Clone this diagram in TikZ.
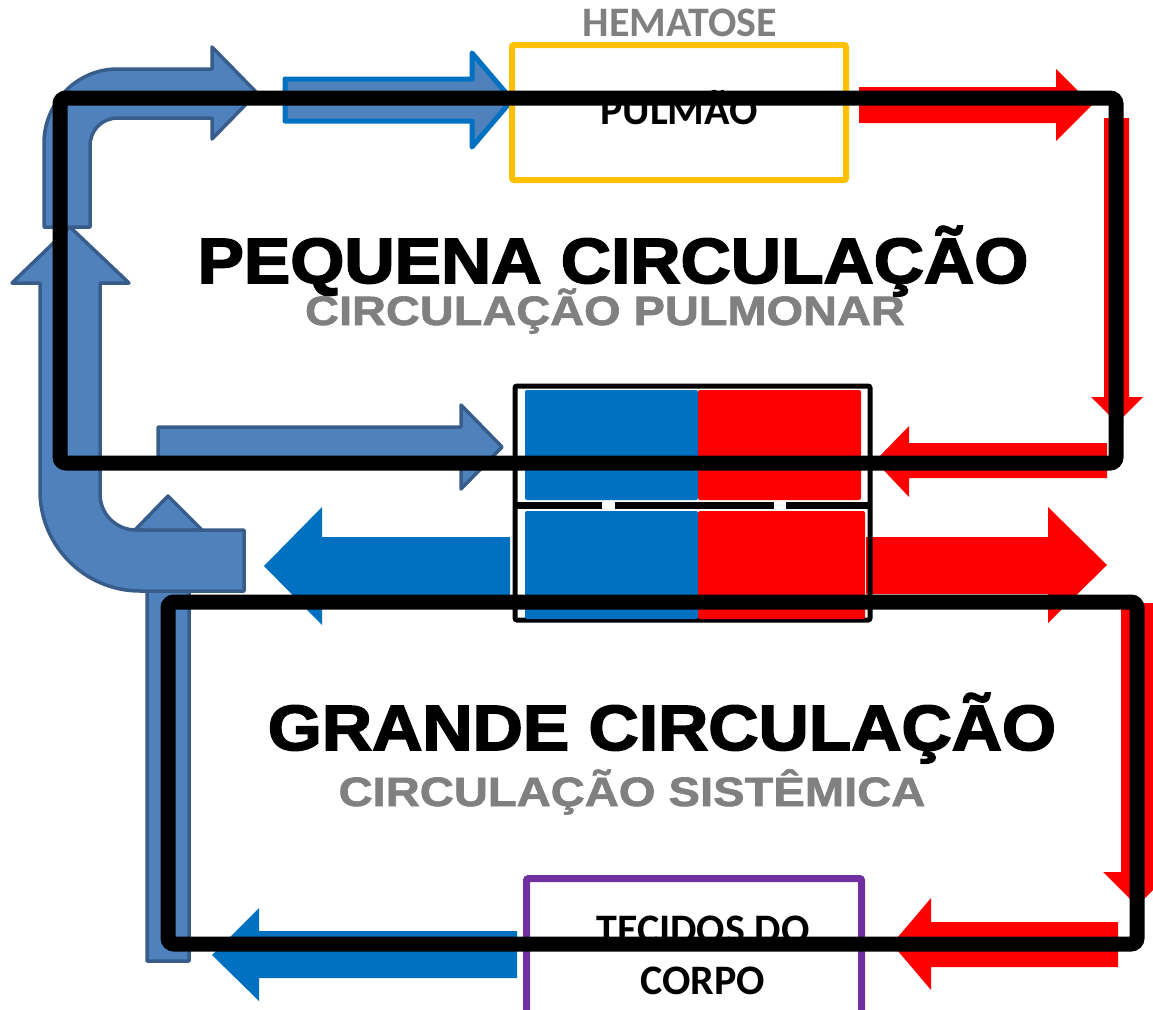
\documentclass[tikz,border=0pt]{standalone}
\usepackage{graphicx}
\usepackage{fontspec}
\setmainfont{Liberation Sans}
\newfontfamily\calibri{Carlito}
\newfontfamily\heavyfont[FakeBold=2.5]{Liberation Sans Bold}
\newfontfamily\subfont[FakeBold=1.5]{Liberation Sans Bold}
\definecolor{bgfill}{HTML}{4F81BD}
\definecolor{bgline}{HTML}{385D8A}
\definecolor{vblue}{HTML}{0070C0}
\definecolor{vred}{HTML}{FF0000}
\definecolor{lyellow}{HTML}{FFC000}
\definecolor{tpurple}{HTML}{7030A0}
\definecolor{tgray}{HTML}{808080}

\begin{document}
\begin{tikzpicture}[x=1pt,y=-1pt,
  bluegray/.style={fill=bgfill,draw=bgline,line width=3.5pt,line join=round},
  veins/.style={fill=vblue},
  artery/.style={fill=vred},
  frame/.style={draw=black,line width=15pt,rounded corners=6pt},
  organ/.style={draw,line width=6pt,rounded corners=2pt,inner sep=0pt},
  boxtext/.style={font={\calibri\bfseries\fontsize{42}{51}\selectfont},align=center,inner sep=0pt},
  title/.style={font={\heavyfont\fontsize{64}{64}\selectfont},anchor=base,inner sep=0pt},
  subtitle/.style={font={\subfont\fontsize{41}{41}\selectfont},text=tgray,anchor=base,inner sep=0pt}]
\useasboundingbox (0,0) rectangle (1153,1009);
\clip (0,0) rectangle (1153,1009);

% veias (setas azul-acinzentadas)
\draw[bluegray] (147,961) -- (147,530) -- (135,530) -- (168,496) -- (202,530) -- (189,530) -- (189,961) -- cycle;
\draw[bluegray] (244,530) -- (136,530) .. controls (116,530) and (100,514) .. (100,494) -- (100,283) -- (129,283) -- (70,227) -- (12,283) -- (40,283) -- (40,491) .. controls (40,546) and (85,591) .. (140,591) -- (244,591) -- cycle;
\draw[bluegray] (44,227) -- (44,143) .. controls (44,103) and (77,69) .. (117,69) -- (212,69) -- (212,47) -- (257,93) -- (212,139) -- (212,118) -- (118,118) .. controls (102,118) and (90,130) .. (90,146) -- (90,227) -- cycle;
\draw[bluegray] (158,427) -- (461,427) -- (461,405) -- (502,447) -- (461,489) -- (461,467) -- (158,467) -- cycle;
\draw[bluegray,draw=vblue,line width=5pt] (285,79) -- (472,79) -- (472,53) -- (512,100) -- (472,147) -- (472,121) -- (285,121) -- cycle;

% sangue arterial
\fill[artery] (859,87) -- (1056,87) -- (1056,69) -- (1092,105) -- (1056,141) -- (1056,123) -- (859,123) -- cycle;
\fill[artery] (1104,118) -- (1104,397) -- (1091,397) -- (1117,423) -- (1143,397) -- (1129,397) -- (1129,118) -- cycle;
\fill[artery] (1107,443) -- (909,443) -- (909,426) -- (875,461) -- (909,497) -- (909,478) -- (1107,478) -- cycle;
\fill[artery] (866,537) -- (1048,537) -- (1048,507) -- (1107,565) -- (1048,623) -- (1048,594) -- (866,594) -- cycle;
\fill[artery] (1121,603) -- (1121,872) -- (1103,872) -- (1137,906) -- (1171,872) -- (1153,872) -- (1153,603) -- cycle;
\fill[artery] (1118,922) -- (931,922) -- (931,898) -- (892,944) -- (931,990) -- (931,967) -- (1118,967) -- cycle;

% sangue venoso
\fill[veins] (510,537) -- (322,537) -- (322,507) -- (264,566) -- (322,625) -- (322,595) -- (510,595) -- cycle;
\fill[veins] (517,931) -- (259,931) -- (259,908) -- (212,955) -- (259,1001) -- (259,978) -- (517,978) -- cycle;

% coracao
\draw[line width=5pt,rounded corners=2pt] (515,386) rectangle (870,620);
\fill[veins,rounded corners=2pt] (525,390) rectangle (698,500); \fill[artery,rounded corners=2pt] (698,390) rectangle (861,500);
\fill[veins,rounded corners=2pt] (525,511) rectangle (698,619); \fill[artery,rounded corners=2pt] (698,511) rectangle (865,619);
\draw[line width=7pt] (515,505) -- (602,505) (615,505) -- (774,505) (786,505) -- (870,505);

% orgaos
\node[organ,draw=lyellow,minimum width=334pt,minimum height=135pt] (pulmao) at (679,112.5) {};
\node[boxtext,anchor=base] (pulmaotxt) at (679,124) {PULMÃO};
\node[organ,draw=tpurple,line width=7pt,minimum width=335pt,minimum height=160pt,anchor=north] (tecidos) at (694,875) {};
\node[boxtext] (tecidostxt) at (703,955) {TECIDOS DO\\CORPO};
\node[boxtext,text=tgray,anchor=base] (hematose) at (680,36) {HEMATOSE};

% circuitos
\draw[frame] (60,98) rectangle (1116,463);
\draw[frame] (168,602) rectangle (1137,944);

\node[title] (pequena) at (613,283) {\scalebox{1.087}[1]{PEQUENA CIRCULAÇÃO}};
\node[subtitle] (pulmonar) at (605,325) {\scalebox{1.145}[1]{CIRCULAÇÃO PULMONAR}};
\node[title] (grande) at (662,750) {\scalebox{1.087}[1]{GRANDE CIRCULAÇÃO}};
\node[subtitle] (sistemica) at (632,806) {\scalebox{1.15}[1]{CIRCULAÇÃO SISTÊMICA}};
\end{tikzpicture}
\end{document}
